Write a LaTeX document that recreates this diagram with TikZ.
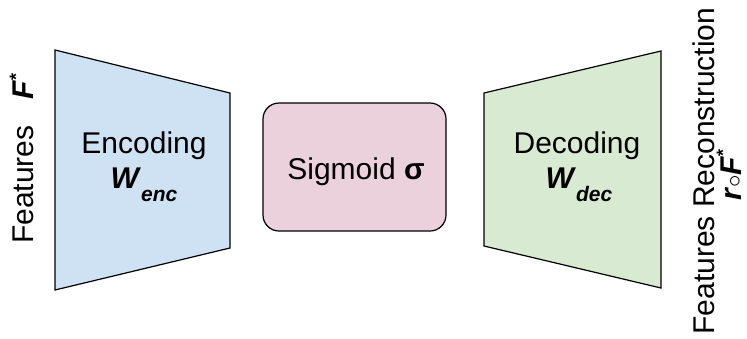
\documentclass[tikz,border=0pt]{standalone}
\usepackage{fontspec}
\setmainfont{Liberation Sans}
\newcommand{\bi}[1]{\textbf{\textit{#1}}}
\newcommand{\subx}[1]{\raisebox{-13pt}{\fontsize{21}{24}\selectfont\bi{#1}}}
\newcommand{\supx}[1]{\raisebox{12pt}{\fontsize{18}{20}\selectfont\textbf{#1}}}
\begin{document}
\begin{tikzpicture}[x=1pt,y=-1pt,
  blk/.style={draw=black,line width=1.2pt,line join=miter},
  lbl/.style={font=\fontsize{30}{34}\selectfont,inner sep=0pt}]
\useasboundingbox (0,0) rectangle (747,338);
\definecolor{encblue}{HTML}{CFE2F3}
\definecolor{sigpink}{HTML}{EAD1DC}
\definecolor{decgreen}{HTML}{D9EAD3}
% encoder trapezoid
\draw[blk,fill=encblue] (55,50) -- (230,93) -- (230,248) -- (55,290) -- cycle;
% sigmoid box
\draw[blk,fill=sigpink,rounded corners=16pt] (263,103) rectangle (446,231);
% decoder trapezoid
\draw[blk,fill=decgreen] (484,93) -- (661,51) -- (661,288) -- (484,246) -- cycle;
% texts
\node[lbl,anchor=base] (enc1) at (144,153) {Encoding};
\node[lbl,anchor=base] (enc2) at (144,188) {\bi{W}\subx{enc}};
\node[lbl,anchor=base] (sig) at (356,179) {Sigmoid \textbf{σ}};
\node[lbl,anchor=base] (dec1) at (577,153) {Decoding};
\node[lbl,anchor=base] (dec2) at (579,188) {\bi{W}\subx{dec}};
\node[lbl,rotate=90,anchor=base west] (inp) at (34,244) {Features\hspace{26pt}\bi{F}\supx{*}};
\node[lbl,rotate=90,anchor=base] (out1) at (714,171) {Features Reconstruction};
\node[lbl,rotate=90,anchor=base] (out2) at (741,175) {\bi{r}$\circ$\bi{F}\supx{*}};
\end{tikzpicture}
\end{document}
